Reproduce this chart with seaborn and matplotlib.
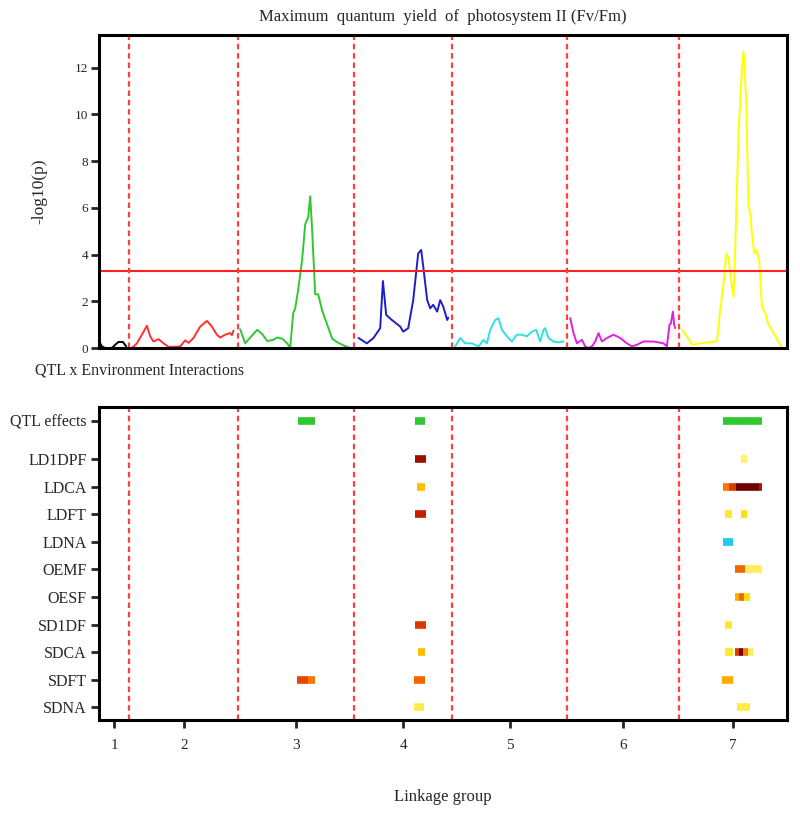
import numpy as np
import pandas as pd
import matplotlib
matplotlib.use("Agg")
import matplotlib.pyplot as plt
import seaborn as sns
from matplotlib.colors import LinearSegmentedColormap

# linkage groups (lengths in cM) and colours of the profile
chrom_names = ["1", "2", "3", "4", "5", "6", "7"]
chrom_lengths = [30, 109, 116, 98, 115, 112, 108]
chrom_colors = ["black", "#ff3030", "#30c830", "#1e1ec8", "#30e0e0", "#e020e0", "#ffff00"]

# -log10(p) profiles, local position within each linkage group
lg1_pos = [1, 2.7, 6, 12.7, 16, 19.3, 23.7, 27]
lg1_p = [0.2, 0.07, 0.0, 0.0, 0.14, 0.26, 0.26, 0.07]
lg2_pos = [2.7, 7.7, 12.7, 17.7, 21, 24.3, 29.3, 34.3, 39.3, 44.3, 51, 56, 59.3, 64.3, 71, 77.7,
           82.7, 87.7, 91, 96, 101, 102.7, 104.3]
lg2_p = [0.0, 0.2, 0.57, 0.95, 0.5, 0.28, 0.38, 0.2, 0.05, 0.05, 0.07, 0.33, 0.22, 0.43, 0.92, 1.16,
         0.92, 0.57, 0.45, 0.57, 0.64, 0.55, 0.75]
lg3_pos = [2, 7, 12, 19, 24, 29, 35, 39, 44, 49, 52, 55, 57, 60, 64, 67, 70, 72, 74, 77, 80, 84,
           89, 94, 99, 106, 112]
lg3_p = [0.8, 0.2, 0.45, 0.78, 0.6, 0.3, 0.35, 0.45, 0.4, 0.2, 0.0, 1.5, 1.7, 2.5, 3.8, 5.3, 5.6,
         6.5, 5.0, 2.3, 2.3, 1.6, 1.0, 0.4, 0.25, 0.1, 0.0]
lg4_pos = [4.3, 12.7, 19.3, 26, 28.7, 32, 37.7, 46, 49, 54, 59, 64, 67, 69, 73, 76, 79, 83, 86, 89,
           93, 94]
lg4_p = [0.43, 0.2, 0.43, 0.85, 2.87, 1.42, 1.2, 0.92, 0.7, 0.85, 2.05, 4.05, 4.2, 3.5, 2.05, 1.7,
         1.85, 1.56, 2.05, 1.78, 1.2, 1.3]
lg5_pos = [3, 8, 13, 19.7, 26.3, 31.3, 34.7, 38, 43, 46.3, 49.7, 54.7, 59.7, 64.7, 69.7, 74.7, 79.7,
           84, 88, 91.3, 93, 96.3, 101.3, 106.3, 111.3]
lg5_p = [0.07, 0.43, 0.2, 0.2, 0.07, 0.35, 0.2, 0.78, 1.2, 1.28, 0.78, 0.5, 0.28, 0.57, 0.57, 0.5,
         0.7, 0.78, 0.28, 0.78, 0.85, 0.43, 0.28, 0.24, 0.28]
lg6_pos = [3, 6.3, 9.7, 14.7, 18, 21.3, 24.7, 28, 31.3, 34.7, 39.7, 46.3, 53, 59.7, 64.7, 69.7, 76.3,
           86.3, 96.3, 99.7, 102.3, 103.7, 105.7, 107, 108]
lg6_p = [1.28, 0.64, 0.2, 0.35, 0.07, 0.0, 0.07, 0.28, 0.64, 0.28, 0.43, 0.57, 0.43, 0.2, 0.07, 0.14,
         0.28, 0.28, 0.2, 0.07, 1.0, 1.05, 1.56, 1.0, 0.85]
lg7_pos = [2.7, 7.7, 12.7, 21, 29.3, 37.7, 41, 44.3, 47, 49.3, 52.7, 54.3, 56, 59.3, 62.7, 64.3, 67,
           69.3, 71, 72.7, 75, 77.7, 80.3, 82.7, 86, 89.3, 94.3, 99.3, 102.7]
lg7_p = [0.78, 0.5, 0.14, 0.2, 0.24, 0.28, 1.63, 2.77, 4.05, 3.84, 2.63, 2.2, 4.2, 9.16, 12.0, 12.7,
         10.6, 6.04, 5.75, 4.9, 4.05, 4.2, 3.62, 1.78, 1.49, 1.0, 0.64, 0.28, 0.0]
threshold = 3.3

# QTL x environment rows: (linkage group, start cM, end cM, effect) ; effect -1 = negative
trait_names = ["QTL effects", "LD1DPF", "LDCA", "LDFT", "LDNA", "OEMF", "OESF",
               "SD1DF", "SDCA", "SDFT", "SDNA"]
qtl_effects = [(3, 60, 77), (4, 61, 71), (7, 44, 83)]
ld1dpf = [(4, 61, 72, 0.9), (7, 62, 68, 0.08)]
ldca = [(4, 63, 71, 0.3), (7, 44, 50, 0.5), (7, 50, 57, 0.7), (7, 57, 80, 1.0), (7, 80, 83, 0.85)]
ldft = [(4, 61, 72, 0.8), (7, 46, 53, 0.15), (7, 62, 68, 0.2)]
ldna = [(7, 44, 54, -1)]
oemf = [(7, 56, 66, 0.55), (7, 66, 83, 0.1)]
oesf = [(7, 56, 60, 0.35), (7, 60, 65, 0.55), (7, 65, 71, 0.2)]
sd1df = [(4, 61, 72, 0.7), (7, 46, 53, 0.15)]
sdca = [(4, 64, 71, 0.3), (7, 46, 54, 0.15), (7, 56, 60, 0.7), (7, 60, 64, 1.0), (7, 64, 69, 0.5),
        (7, 69, 74, 0.1)]
sdft = [(3, 59, 70, 0.65), (3, 70, 77, 0.5), (4, 60, 71, 0.55), (7, 43, 54, 0.35)]
sdna = [(4, 60, 70, 0.12), (7, 58, 71, 0.12)]
trait_marks = [ld1dpf, ldca, ldft, ldna, oemf, oesf, sd1df, sdca, sdft, sdna]
trait_y = [10.4, 9, 8, 7, 6, 5, 4, 3, 2, 1, 0]

sns.set_style("white")
plt.rcParams["font.family"] = ["Liberation Serif", "DejaVu Serif"]

offsets = np.concatenate([[0], np.cumsum(chrom_lengths)])
mids = offsets[:-1] + np.array(chrom_lengths) / 2

all_pos = [lg1_pos, lg2_pos, lg3_pos, lg4_pos, lg5_pos, lg6_pos, lg7_pos]
all_p = [lg1_p, lg2_p, lg3_p, lg4_p, lg5_p, lg6_p, lg7_p]
rows = []
for i, name in enumerate(chrom_names):
    for x, y in zip(all_pos[i], all_p[i]):
        rows.append({"chrom": name, "pos": offsets[i] + x, "logp": y})
prof = pd.DataFrame(rows)

fig = plt.figure(figsize=(8, 8.16), dpi=100)
ax1 = fig.add_axes([0.124, 0.5735, 0.86, 0.3835])
ax2 = fig.add_axes([0.124, 0.1176, 0.86, 0.3836])

sns.lineplot(data=prof, x="pos", y="logp", hue="chrom", palette=chrom_colors, sort=False,
             estimator=None, legend=False, linewidth=1.4, ax=ax1)
ax1.axhline(threshold, color="#ff2020", lw=1.5)
for ax in (ax1, ax2):
    for b in offsets[1:-1]:
        ax.axvline(b, color="#ff4040", lw=1.6, ls=(0, (2.5, 1.7)))
    for s in ax.spines.values():
        s.set_linewidth(2.2)
        s.set_color("black")
    ax.set_xlim(0, offsets[-1])

ax1.set_ylim(0, 13.4)
ax1.set_yticks([0, 2, 4, 6, 8, 10, 12])
ax1.set_xticks([])
ax1.set_xlabel("")
ax1.set_ylabel("-log10(p)", fontsize=12.5, labelpad=20)
ax1.tick_params(axis="y", direction="out", length=6, width=2, labelsize=9.5, pad=2, left=True)
ax1.set_title("Maximum  quantum  yield  of  photosystem II (Fv/Fm)", fontsize=12, pad=10)

# heat colours for the interaction effects
heat = LinearSegmentedColormap.from_list(
    "heat", ["#fffab0", "#ffe000", "#ff9a00", "#f05500", "#c42000", "#700000"])
for c, a, b in qtl_effects:
    ax2.hlines(trait_y[0], offsets[c - 1] + a, offsets[c - 1] + b, color="#30c830", lw=5.5)
for yv, marks in zip(trait_y[1:], trait_marks):
    for c, a, b, v in marks:
        col = "#20c8f0" if v < 0 else heat(v)
        ax2.hlines(yv, offsets[c - 1] + a, offsets[c - 1] + b, color=col, lw=5.5)

ax2.set_ylim(-0.47, 10.9)
ax2.set_yticks(trait_y)
ax2.set_yticklabels(trait_names, fontsize=11.5)
ax2.set_xticks(mids)
ax2.set_xticklabels(chrom_names, fontsize=11)
ax2.tick_params(axis="both", direction="out", length=6, width=2, pad=3, left=True, bottom=True)
ax2.tick_params(axis="x", pad=8)
ax2.set_xlabel("Linkage group", fontsize=12, labelpad=26)

fig.text(0.044, 0.546, "QTL x Environment Interactions", fontsize=11.5, ha="left", va="center")

fig.savefig("out.png", dpi=100)
